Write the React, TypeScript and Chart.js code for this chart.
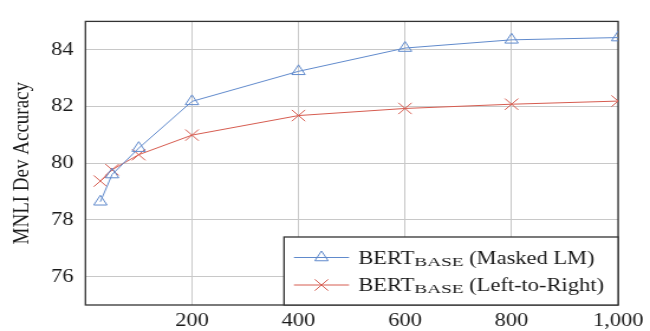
import React, { useEffect, useRef } from 'react';
import { Chart, registerables } from 'chart.js';
import { drawPoint } from 'chart.js/helpers';

Chart.register(...registerables);

// ---- data ----
const steps = [28, 50, 100, 200, 400, 600, 800, 1000];
const maskedLM = [78.64, 79.6, 80.53, 82.18, 83.24, 84.06, 84.35, 84.43];
const leftToRight = [79.37, 79.77, 80.3, 80.99, 81.68, 81.93, 82.08, 82.19];
const xTickValues = [200, 400, 600, 800, 1000];
const yTickValues = [76, 78, 80, 82, 84];
const seriesBase = ['BERT', 'BERT'];
const seriesSub = ['BASE', 'BASE'];
const seriesSuffix = [' (Masked LM)', ' (Left-to-Right)'];
const yTitle = 'MNLI Dev Accuracy';

// ---- style ----
const BLUE = 'rgb(96,138,204)';
const RED = 'rgb(214,92,80)';
const INK = '#1a1a1a';
const FRAME = '#333333';
const GRID = '#c8c8c8';
const FONT = '"Liberation Serif", "Times New Roman", serif';
const CANVAS_W = 550;
const CANVAS_H = 331;
const DISPLAY_W = 650;

const framePlugin = {
  id: 'frame',
  beforeDatasetsDraw(chart: any) {
    const { ctx, chartArea: a } = chart;
    ctx.save();
    ctx.strokeStyle = FRAME;
    ctx.lineWidth = 1.3;
    ctx.strokeRect(a.left, a.top, a.right - a.left, a.bottom - a.top);
    ctx.restore();
  },
  afterDraw(chart: any) {
    const { ctx, chartArea: a } = chart;
    const mainFont = `19px ${FONT}`;
    const subFont = `11.5px ${FONT}`;
    const subScale = 1.42;
    ctx.save();
    const parts = chart.data.datasets.map((_: any, i: number) => {
      ctx.font = mainFont;
      const w1 = ctx.measureText(seriesBase[i]).width;
      const w3 = ctx.measureText(seriesSuffix[i]).width;
      ctx.font = subFont;
      const w2 = ctx.measureText(seriesSub[i]).width * subScale;
      return { w1, w2, w3 };
    });
    const maxW = Math.max(...parts.map((p: any) => p.w1 + p.w2 + p.w3));
    const padL = 8.4, sample = 46.6, gap = 7.8, padR = 12;
    const boxW = padL + sample + gap + maxW + padR;
    const boxH = 68;
    const left = a.right - boxW;
    const top = a.bottom - boxH;
    ctx.fillStyle = '#ffffff';
    ctx.fillRect(left, top, boxW, boxH);
    ctx.strokeStyle = FRAME;
    ctx.lineWidth = 1.3;
    ctx.strokeRect(left, top, boxW, boxH);

    const rows = [top + 20.5, top + 48];
    chart.data.datasets.forEach((ds: any, i: number) => {
      const y = rows[i];
      const x0 = left + padL;
      ctx.strokeStyle = ds.borderColor;
      ctx.lineWidth = 1;
      ctx.beginPath();
      ctx.moveTo(x0, y);
      ctx.lineTo(x0 + sample, y);
      ctx.stroke();
      ctx.fillStyle = 'rgba(255,255,255,0)';
      ctx.strokeStyle = ds.borderColor;
      ctx.lineWidth = 1;
      drawPoint(ctx, { pointStyle: ds.pointStyle, radius: ds.pointRadius, rotation: 0, borderWidth: 1 } as any, x0 + sample / 2, y);

      const tx = x0 + sample + gap;
      const base = y + 6.3;
      ctx.fillStyle = INK;
      ctx.textBaseline = 'alphabetic';
      ctx.textAlign = 'left';
      ctx.font = mainFont;
      ctx.fillText(seriesBase[i], tx, base);
      ctx.save();
      ctx.font = subFont;
      ctx.translate(tx + parts[i].w1, base + 2);
      ctx.scale(subScale, 1);
      ctx.fillText(seriesSub[i], 0, 0);
      ctx.restore();
      ctx.font = mainFont;
      ctx.fillText(seriesSuffix[i], tx + parts[i].w1 + parts[i].w2, base);
    });
    ctx.restore();
  },
};

export default function App() {
  const ref = useRef<HTMLCanvasElement>(null);
  useEffect(() => {
    const chart = new Chart(ref.current as HTMLCanvasElement, {
      type: 'line',
      data: {
        datasets: [
          {
            label: seriesBase[0] + seriesSub[0] + seriesSuffix[0],
            data: steps.map((s, i) => ({ x: s, y: maskedLM[i] })),
            borderColor: BLUE,
            borderWidth: 1,
            pointStyle: 'triangle',
            pointRadius: 6.5,
            pointBorderWidth: 1,
            pointBorderColor: BLUE,
            pointBackgroundColor: 'rgba(255,255,255,0)',
            tension: 0,
          },
          {
            label: seriesBase[1] + seriesSub[1] + seriesSuffix[1],
            data: steps.map((s, i) => ({ x: s, y: leftToRight[i] })),
            borderColor: RED,
            borderWidth: 1,
            pointStyle: 'crossRot',
            pointRadius: 8,
            pointBorderWidth: 1,
            pointBorderColor: RED,
            pointBackgroundColor: 'rgba(255,255,255,0)',
            tension: 0,
          },
        ],
      },
      options: {
        responsive: false,
        maintainAspectRatio: false,
        devicePixelRatio: 1,
        animation: false,
        layout: { padding: { top: 12, right: 27, bottom: 0, left: 0 } },
        plugins: { legend: { display: false }, tooltip: { enabled: false } },
        scales: {
          x: {
            type: 'linear',
            min: 0,
            max: 1000,
            afterBuildTicks: (s: any) => {
              s.ticks = xTickValues.map((v) => ({ value: v }));
            },
            afterFit: (s: any) => {
              s.height = 26;
            },
            ticks: {
              font: { family: FONT, size: 19 },
              color: INK,
              padding: 5,
              maxRotation: 0,
              autoSkip: false,
              callback: (v: any) => Number(v).toLocaleString('en-US'),
            },
            grid: { color: GRID, lineWidth: 1, drawTicks: false },
            border: { display: false },
          },
          y: {
            type: 'linear',
            min: 75,
            max: 85,
            afterBuildTicks: (s: any) => {
              s.ticks = yTickValues.map((v) => ({ value: v }));
            },
            afterFit: (s: any) => {
              s.width = 72.3;
            },
            ticks: {
              font: { family: FONT, size: 19 },
              color: INK,
              padding: 10,
              autoSkip: false,
            },
            grid: { color: GRID, lineWidth: 1, drawTicks: false },
            border: { display: false },
            title: {
              display: true,
              text: yTitle,
              font: { family: FONT, size: 19 },
              color: INK,
              padding: { top: 8, bottom: 0 },
            },
          },
        },
      },
      plugins: [framePlugin],
    } as any);
    return () => chart.destroy();
  }, []);
  return (
    <div style={{ position: 'absolute', left: 0, top: 0, width: DISPLAY_W, height: CANVAS_H }}>
      <canvas
        ref={ref}
        width={CANVAS_W}
        height={CANVAS_H}
        style={{ width: DISPLAY_W + 'px', height: CANVAS_H + 'px', display: 'block' }}
      />
    </div>
  );
}
